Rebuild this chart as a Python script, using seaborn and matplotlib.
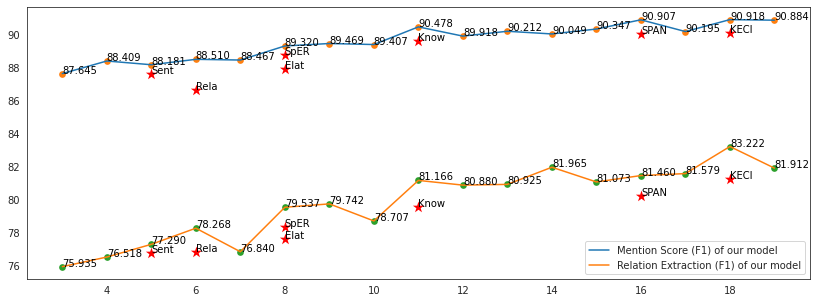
import matplotlib
matplotlib.use("Agg")
import matplotlib.pyplot as plt
import seaborn as sns

# our model, one point per x
x = [3, 4, 5, 6, 7, 8, 9, 10, 11, 12, 13, 14, 15, 16, 17, 18, 19]
mention = [87.645, 88.409, 88.181, 88.510, 88.467, 89.320, 89.469, 89.407,
           90.478, 89.918, 90.212, 90.049, 90.347, 90.907, 90.195, 90.918,
           90.884]
relation = [75.935, 76.518, 77.290, 78.268, 76.840, 79.537, 79.742, 78.707,
            81.166, 80.880, 80.925, 81.965, 81.073, 81.460, 81.579, 83.222,
            81.912]

# baselines (red stars)
base_names = ["Sent", "Rela", "SpER", "Elat", "Know", "SPAN", "KECI"]
base_x = [5, 6, 8, 8, 11, 16, 18]
base_mention = [87.62, 86.63, 88.75, 87.95, 89.61, 90.07, 90.13]
base_relation = [76.79, 76.83, 78.33, 77.60, 79.54, 80.24, 81.23]

sns.set_style("white")
plt.rcParams["font.family"] = ["DejaVu Sans"]

fig, ax = plt.subplots(figsize=(815 / 72, 303 / 72), dpi=72)
fig.subplots_adjust(left=0.0328, right=0.9939, top=0.976, bottom=0.0792)

# lines
sns.lineplot(x=x, y=mention, color="C0", linewidth=1.5,
             label="Mention Score (F1) of our model", ax=ax)
sns.lineplot(x=x, y=relation, color="C1", linewidth=1.5,
             label="Relation Extraction (F1) of our model", ax=ax)

# dots
sns.scatterplot(x=x, y=mention, color="C1", s=45, linewidth=0,
                zorder=1, legend=False, ax=ax)
sns.scatterplot(x=x, y=relation, color="C2", s=45, linewidth=0,
                zorder=1, legend=False, ax=ax)

# baselines
sns.scatterplot(x=base_x, y=base_mention, color="red", marker="*", s=140,
                linewidth=0, legend=False, ax=ax)
sns.scatterplot(x=base_x, y=base_relation, color="red", marker="*", s=140,
                linewidth=0, legend=False, ax=ax)

for xi, m, r in zip(x, mention, relation):
    ax.text(xi, m, f"{m:.3f}", fontsize=10, color="black")
    ax.text(xi, r, f"{r:.3f}", fontsize=10, color="black")

for name, bx, bm, br in zip(base_names, base_x, base_mention, base_relation):
    ax.text(bx, bm, name, fontsize=10, color="black")
    ax.text(bx, br, name, fontsize=10, color="black")

ax.set_xticks([4, 6, 8, 10, 12, 14, 16, 18])
ax.set_yticks([76, 78, 80, 82, 84, 86, 88, 90])
ax.tick_params(labelsize=10)
ax.legend(loc="lower right", fontsize=10)

fig.savefig("out.png", dpi=72)
